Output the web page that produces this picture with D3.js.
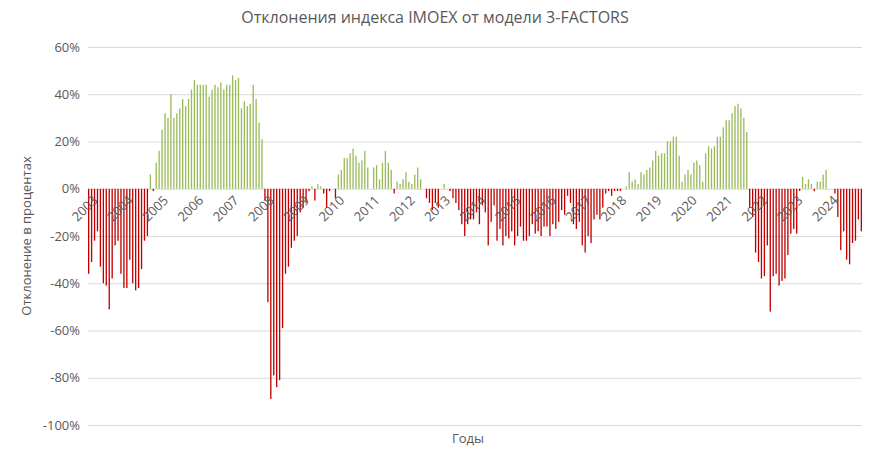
<!DOCTYPE html>
<html>
<head>
<meta charset="utf-8">
<script src="https://cdn.jsdelivr.net/npm/d3@7"></script>
<style>
  body { margin: 0; background: #fff; }
  text { font-family: "Open Sans", sans-serif; fill: #595959; }
</style>
</head>
<body>
<svg width="871" height="456"></svg>
<script>
// monthly deviation, %, from Jan 2003
var values = [
  -36,-31,-22,-18,-33,-40,-41,-51,-38,-24,-22,-36,-42,-42,-30,-40,-43,-42,-34,-22,-20,
  6,-1,11,16,25,32,30,40,30,32,34,38,35,38,42,46,44,44,44,44,39,42,44,43,45,42,44,44,48,46,47,34,37,35,36,44,38,28,21,
  -5,-48,-89,-79,-84,-81,-59,-36,-33,-25,-22,-20,-10,-8,-6,-1,1,-5,2,1,
  -2,-8,-1,0,-4,6,8,13,13,15,17,14,11,12,16,9,0,9,10,4,
  11,16,11,8,-2,3,2,4,7,3,2,6,9,4,0,-4,-6,-9,-6,-8,
  0,2,0,-1,-4,-6,-9,-15,-20,
  -15,-13,-13,-10,-15,-7,-10,-24,-14,-7,-22,-17,-24,-20,-21,-18,-24,-20,-16,-22,
  -22,-20,-15,-19,-18,-20,-16,-16,-20,-15,-17,-14,-9,-11,-3,-6,-15,-17,-14,-24,-27,-20,-23,
  -13,-11,-13,-8,-2,-1,-3,-1,-1,-1,0,1,7,3,4,2,7,6,8,9,12,16,14,15,15,20,20,
  22,22,14,3,6,8,6,11,12,10,3,15,18,17,18,22,22,26,29,29,32,35,36,34,30,24,
  -8,-12,-27,-31,-38,-37,-24,-52,-37,-36,-41,-39,-38,-28,-19,-17,-19,
  -1,5,2,4,2,-1,3,3,6,8,0,0,-2,-12,-26,-18,-30,-32,-23,-22,-13,-18
];
var years = d3.range(2003, 2025).map(String);
var yTicks = [60, 40, 20, 0, -20, -40, -60, -80, -100];

var svg = d3.select("svg"),
    plotLeft = 88, plotRight = 862, plotTop = 47, plotBottom = 425;

var x = d3.scaleBand()
    .domain(d3.range(values.length))
    .range([plotLeft, plotRight])
    .paddingInner(0.55);

var y = d3.scaleLinear().domain([-100, 60]).range([plotBottom, plotTop]);

svg.append("g")
  .selectAll("line")
  .data(yTicks)
  .enter().append("line")
    .attr("x1", plotLeft).attr("x2", plotRight)
    .attr("y1", function (d) { return y(d) + 0.5; })
    .attr("y2", function (d) { return y(d) + 0.5; })
    .attr("stroke", "#d9d9d9");

svg.append("g")
  .selectAll("rect")
  .data(values)
  .enter().append("rect")
    .attr("x", function (d, i) { return x(i); })
    .attr("width", x.bandwidth())
    .attr("y", function (d) { return y(Math.max(0, d)); })
    .attr("height", function (d) { return Math.abs(y(d) - y(0)); })
    .attr("fill", function (d) { return d >= 0 ? "#9bbb59" : "#c00000"; });

svg.append("g")
  .selectAll("text")
  .data(yTicks)
  .enter().append("text")
    .attr("x", plotLeft - 8)
    .attr("y", function (d) { return y(d); })
    .attr("dy", "0.35em")
    .attr("text-anchor", "end")
    .attr("font-size", 13)
    .text(function (d) { return d + "%"; });

svg.append("g")
  .selectAll("text")
  .data(years)
  .enter().append("text")
    .attr("text-anchor", "end")
    .attr("font-size", 13)
    .attr("transform", function (d, i) {
      return "translate(" + (x(i * 12) + 4) + "," + (y(0) + 6) + ") rotate(-45)";
    })
    .attr("dy", "0.7em")
    .text(function (d) { return d; });

svg.append("text")
  .attr("x", 435).attr("y", 23)
  .attr("text-anchor", "middle")
  .attr("font-size", 16)
  .text("Отклонения индекса IMOEX от модели 3-FACTORS");

svg.append("text")
  .attr("x", 468).attr("y", 443)
  .attr("text-anchor", "middle")
  .attr("font-size", 13)
  .text("Годы");

svg.append("text")
  .attr("transform", "translate(31," + ((plotTop + plotBottom) / 2) + ") rotate(-90)")
  .attr("text-anchor", "middle")
  .attr("font-size", 13)
  .text("Отклонение в процентах");
</script>
</body>
</html>
